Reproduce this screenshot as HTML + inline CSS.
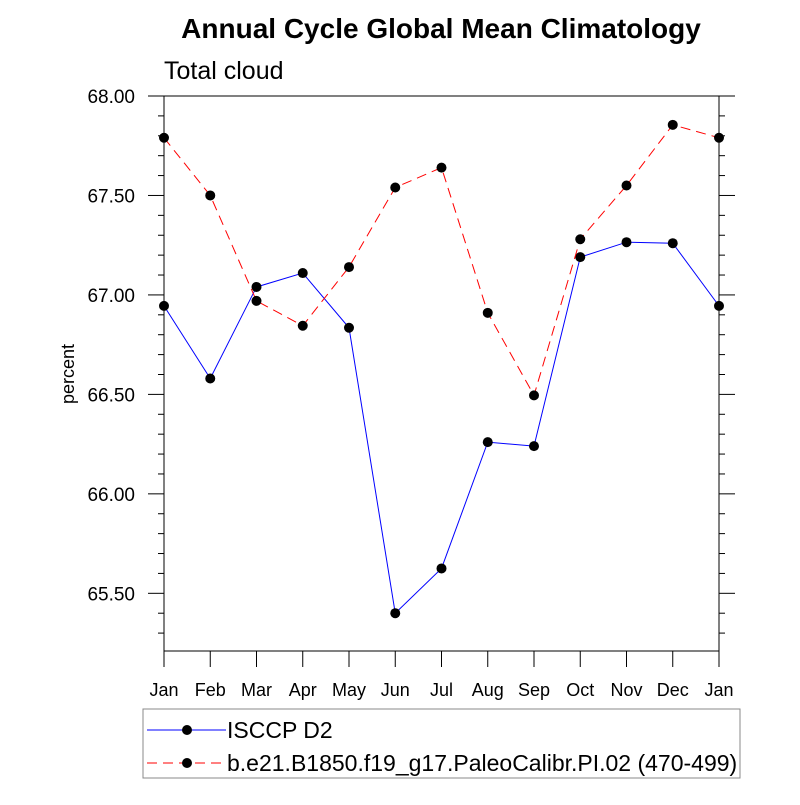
<!DOCTYPE html>
<html><head><meta charset="utf-8"><style>
body{margin:0;background:#fff;}
svg text{font-family:"Liberation Sans",sans-serif;}
</style></head><body>
<svg id="chart" width="800" height="800" xmlns="http://www.w3.org/2000/svg">
<rect width="800" height="800" fill="#fff"/>
<text x="441" y="38" text-anchor="middle" font-size="28" font-weight="bold">Annual Cycle Global Mean Climatology</text>
<text x="164" y="79" font-size="25">Total cloud</text>
<text transform="translate(74,374) rotate(-90)" text-anchor="middle" font-size="18">percent</text>
<g id="axes"></g>
<g id="series"></g>
<rect x="143" y="709" width="597" height="69" fill="none" stroke="#888" stroke-width="1"/>
<line x1="147" y1="730" x2="226" y2="730" stroke="#00f" stroke-width="1"/>
<circle cx="187" cy="730" r="5" fill="#000"/>
<text x="227" y="738" font-size="23">ISCCP D2</text>
<line x1="147" y1="763" x2="226" y2="763" stroke="#f00" stroke-width="1" stroke-dasharray="10,6"/>
<circle cx="187" cy="763" r="5" fill="#000"/>
<text x="227" y="771" font-size="23">b.e21.B1850.f19_g17.PaleoCalibr.PI.02 (470-499)</text>
</svg>
<script>
const months=["Jan","Feb","Mar","Apr","May","Jun","Jul","Aug","Sep","Oct","Nov","Dec","Jan"];
const isccp=[66.945,66.58,67.04,67.11,66.835,65.40,65.625,66.26,66.24,67.19,67.265,67.26,66.945];
const model=[67.79,67.50,66.97,66.845,67.14,67.54,67.64,66.91,66.495,67.28,67.55,67.855,67.79];
const yTicks=[65.5,66.0,66.5,67.0,67.5,68.0];
const yTickLabels=["65.50","66.00","66.50","67.00","67.50","68.00"];
const L=164,R=719,T=96,B=651,YMIN=65.21,YMAX=68.0;
const ns="http://www.w3.org/2000/svg";
function xs(i){return L+(R-L)*i/(months.length-1);}
function ys(v){return T+(YMAX-v)/(YMAX-YMIN)*(B-T);}
function mk(tag,attrs,parent){const e=document.createElementNS(ns,tag);for(const k in attrs)e.setAttribute(k,attrs[k]);parent.appendChild(e);return e;}
const ax=document.getElementById('axes'),sr=document.getElementById('series');
const frame=mk('rect',{x:L,y:T,width:R-L,height:B-T,fill:'none',stroke:'#000','stroke-width':1},ax);


for(let v=65.3;v<=68.0001;v+=0.1){
  const y=ys(v);const major=yTicks.some(t=>Math.abs(t-v)<1e-6);const len=major?16:6;
  mk('line',{x1:L-len,y1:y,x2:L,y2:y,stroke:'#000','stroke-width':1},ax);
  mk('line',{x1:R,y1:y,x2:R+len,y2:y,stroke:'#000','stroke-width':1},ax);
}
yTicks.forEach((t,i)=>{const tx=mk('text',{x:L-29,y:ys(t)+7,'text-anchor':'end','font-size':19},ax);tx.textContent=yTickLabels[i];

});
months.forEach((m,i)=>{const x=xs(i);mk('line',{x1:x,y1:B,x2:x,y2:B+16,stroke:'#000','stroke-width':1},ax);
const tx=mk('text',{x:x,y:B+45,'text-anchor':'middle','font-size':18},ax);tx.textContent=m;

});
function line(vals,color,dash,name){
  const pts=vals.map((v,i)=>xs(i)+','+ys(v)).join(' ');
  const pl=mk('polyline',{points:pts,fill:'none',stroke:color,'stroke-width':1},sr);
  if(dash)pl.setAttribute('stroke-dasharray',dash);
  
  
  vals.forEach((v,i)=>{const c=mk('circle',{cx:xs(i),cy:ys(v),r:5,fill:'#000'},sr);
  
  });
}
line(isccp,'#00f',null,'isccp');
line(model,'#f00','10,6','model');
</script>
</body></html>
